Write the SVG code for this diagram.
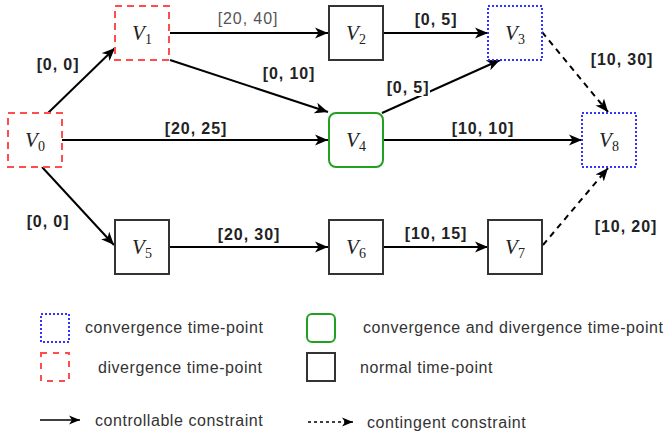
<svg xmlns="http://www.w3.org/2000/svg" width="668" height="436" viewBox="0 0 668 436">
<defs>
<marker id="ah" markerUnits="userSpaceOnUse" markerWidth="14" markerHeight="12" viewBox="0 0 14 12" refX="13" refY="6" orient="auto">
<path d="M0,0.5 L13,6 L0,11.5 L3.5,6 Z" fill="#000"/>
</marker>
<marker id="ahs" markerUnits="userSpaceOnUse" markerWidth="12" markerHeight="10" viewBox="0 0 12 10" refX="11" refY="5" orient="auto">
<path d="M0,0.5 L11,5 L0,9.5 L3,5 Z" fill="#000"/>
</marker>
<style>
.conv{fill:#fff;stroke:#3333ff;stroke-width:2;stroke-dasharray:2 2}
.div{fill:#fff;stroke:#ff4d4d;stroke-width:2;stroke-dasharray:7 5}
.both{fill:#fff;stroke:#22a022;stroke-width:2}
.norm{fill:#fff;stroke:#333;stroke-width:2}
.e{fill:none;stroke:#000;stroke-width:2;marker-end:url(#ah)}
.d{stroke-dasharray:6 5}
.lbl{font-family:"Liberation Sans",Arial,sans-serif;font-size:16px;font-weight:bold;letter-spacing:0.9px;fill:#222;text-anchor:middle}
.g{font-weight:normal;fill:#555}
.v{font-family:"Liberation Serif","Times New Roman",serif;font-size:21px;font-style:italic;fill:#222;text-anchor:middle}
.sub{font-style:normal;font-size:14px}
.leg{font-family:"Liberation Sans",Arial,sans-serif;font-size:16px;fill:#333;letter-spacing:0.55px}
</style>
</defs>
<g id="connectors">
<line class="e" x1="48" y1="113" x2="115" y2="48"/>
<line class="e" x1="170" y1="33" x2="328" y2="33"/>
<line class="e" x1="170" y1="60" x2="328" y2="112"/>
<line class="e" x1="62" y1="140" x2="328" y2="140"/>
<line class="e" x1="42" y1="167" x2="114" y2="245"/>
<line class="e" x1="384" y1="33" x2="488" y2="33"/>
<line class="e" x1="382" y1="113" x2="500" y2="60"/>
<line class="e" x1="383" y1="140" x2="582" y2="140"/>
<line class="e d" x1="542" y1="32" x2="608" y2="112"/>
<line class="e d" x1="543" y1="245" x2="608" y2="168"/>
<line class="e" x1="169" y1="247" x2="328" y2="247"/>
<line class="e" x1="383" y1="247" x2="488" y2="247"/>
<text class="lbl" x="58" y="70">[0, 0]</text>
<text class="lbl g" x="248" y="24">[20, 40]</text>
<text class="lbl" x="289" y="79">[0, 10]</text>
<text class="lbl" x="196" y="134">[20, 25]</text>
<text class="lbl" x="436" y="25">[0, 5]</text>
<rect x="386" y="80" width="44" height="16" fill="#fff"/>
<text class="lbl" x="408" y="93">[0, 5]</text>
<text class="lbl" x="622" y="65">[10, 30]</text>
<text class="lbl" x="483" y="134">[10, 10]</text>
<text class="lbl" x="48" y="227">[0, 0]</text>
<text class="lbl" x="249" y="240">[20, 30]</text>
<text class="lbl" x="436" y="239">[10, 15]</text>
<text class="lbl" x="626" y="232">[10, 20]</text>
</g>
<g id="V0"><rect class="div" x="8" y="113" width="54" height="54"/><text class="v" x="35" y="147">V<tspan class="sub" dy="4">0</tspan></text></g>
<g id="V1"><rect class="div" x="115" y="6" width="54" height="54"/><text class="v" x="142" y="40">V<tspan class="sub" dy="4">1</tspan></text></g>
<g id="V2"><rect class="norm" x="329" y="6" width="54" height="54"/><text class="v" x="356" y="40">V<tspan class="sub" dy="4">2</tspan></text></g>
<g id="V3"><rect class="conv" x="488" y="6" width="54" height="54"/><text class="v" x="515" y="40">V<tspan class="sub" dy="4">3</tspan></text></g>
<g id="V4"><rect class="both" x="329" y="113" width="54" height="54" rx="7"/><text class="v" x="356" y="147">V<tspan class="sub" dy="4">4</tspan></text></g>
<g id="V5"><rect class="norm" x="115" y="220" width="54" height="54"/><text class="v" x="142" y="254">V<tspan class="sub" dy="4">5</tspan></text></g>
<g id="V6"><rect class="norm" x="329" y="220" width="54" height="54"/><text class="v" x="356" y="254">V<tspan class="sub" dy="4">6</tspan></text></g>
<g id="V7"><rect class="norm" x="488" y="220" width="54" height="54"/><text class="v" x="515" y="254">V<tspan class="sub" dy="4">7</tspan></text></g>
<g id="V8"><rect class="conv" x="582" y="113" width="54" height="54"/><text class="v" x="609" y="147">V<tspan class="sub" dy="4">8</tspan></text></g>
<g id="legend">
<rect class="conv" x="41" y="314" width="28" height="28"/>
<text class="leg" x="85" y="333">convergence time-point</text>
<rect class="div" x="41" y="353" width="28" height="28" style="stroke-dasharray:6 6"/>
<text class="leg" x="98" y="373">divergence time-point</text>
<rect class="both" x="307" y="314" width="28" height="28" rx="5"/>
<text class="leg" x="363" y="333">convergence and divergence time-point</text>
<rect class="norm" x="307" y="353" width="28" height="28"/>
<text class="leg" x="360" y="373">normal time-point</text>
<line x1="40" y1="420" x2="80" y2="420" stroke="#000" stroke-width="1.5" marker-end="url(#ahs)"/>
<text class="leg" x="95" y="426">controllable constraint</text>
<line x1="308" y1="422" x2="353" y2="422" stroke="#000" stroke-width="1.5" stroke-dasharray="3 3" marker-end="url(#ahs)"/>
<text class="leg" x="367" y="428">contingent constraint</text>
</g>
</svg>
